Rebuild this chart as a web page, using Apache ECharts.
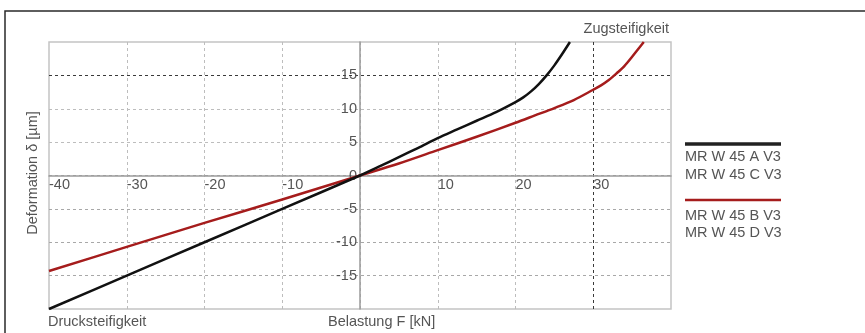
<!DOCTYPE html>
<html>
<head>
<meta charset="utf-8">
<script src="https://cdn.jsdelivr.net/npm/echarts@6/dist/echarts.min.js"></script>
<style>
html,body{margin:0;padding:0;background:#fff;}
#chart{width:865px;height:333px;}
</style>
</head>
<body>
<div id="chart"></div>
<script>
// ---- data ----
const nameAC = 'MR W 45 A V3 / MR W 45 C V3';
const nameBD = 'MR W 45 B V3 / MR W 45 D V3';
const legendAC = ['MR W 45 A V3', 'MR W 45 C V3'];
const legendBD = ['MR W 45 B V3', 'MR W 45 D V3'];
const loadAC   = [-40, -30, -20, -10, 0, 2.5, 5, 7.5, 10, 12.5, 15, 17.5, 20, 21, 22, 23, 24, 25, 26, 27];
const deformAC = [-20, -15, -10, -5, 0, 1.35, 2.75, 4.15, 5.6, 6.9, 8.2, 9.5, 11, 11.7, 12.6, 13.7, 15, 16.5, 18.2, 20];
const loadBD   = [-40, -30, -20, -10, 0, 5, 10, 15, 20, 22.5, 25, 27.5, 30, 31, 32, 33, 34, 35, 36.5];
const deformBD = [-14.3, -10.7, -7.1, -3.6, 0, 1.8, 3.8, 5.8, 7.9, 9, 10.1, 11.3, 12.85, 13.5, 14.3, 15.3, 16.4, 17.8, 20];
const xTitle = 'Belastung F [kN]';
const yTitle = 'Deformation δ [µm]';
const topNote = 'Zugsteifigkeit';
const bottomNote = 'Drucksteifigkeit';

const FONT = "'Liberation Sans', Arial, sans-serif";
const FS = 14.5;
const TXT = '#555';

const GL = 49, GT = 42, GW = 622, GH = 267;

const chart = echarts.init(document.getElementById('chart'), null, {renderer: 'canvas'});
const pairs = (xs, ys) => xs.map((x, i) => [x, ys[i]]);

chart.setOption({
  animation: false,
  backgroundColor: '#fff',
  textStyle: {fontFamily: FONT},
  grid: {left: GL, top: GT, width: GW, height: GH, show: true, borderColor: '#c4c4c4', borderWidth: 1.5, backgroundColor: 'transparent'},
  xAxis: {
    type: 'value', min: -40, max: 40, interval: 10, position: 'bottom', offset: -GH / 2,
    axisLine: {onZero: false, lineStyle: {color: '#9a9a9a', width: 1.5}},
    axisTick: {show: false},
    axisLabel: {
      align: 'left', margin: 2, color: TXT, fontSize: FS, fontFamily: FONT,
      formatter: v => (v === 0 || v === 40) ? '' : String(v)
    },
    splitLine: {show: true, showMinLine: false, showMaxLine: false,
      lineStyle: {type: [3, 3], width: 1, color: ['#bdbdbd', '#bdbdbd', '#bdbdbd', '#bdbdbd', '#bdbdbd', '#bdbdbd', '#3a3a3a']}}
  },
  yAxis: {
    type: 'value', min: -20, max: 20, interval: 5, position: 'left', offset: -GW / 2,
    axisLine: {onZero: false, lineStyle: {color: '#9a9a9a', width: 1.5}},
    axisTick: {show: false},
    axisLabel: {
      margin: 3, color: TXT, fontSize: FS, fontFamily: FONT,
      formatter: v => (v === 20 || v === -20) ? '' : String(v)
    },
    splitLine: {show: true, showMinLine: false, showMaxLine: false,
      lineStyle: {type: [3, 3], width: 1, color: ['#a8a8a8', '#a8a8a8', '#a8a8a8', '#a8a8a8', '#bdbdbd', '#bdbdbd', '#3a3a3a']}}
  },
  series: [
    {name: nameAC, type: 'line', data: pairs(loadAC, deformAC), smooth: 0.3,
     showSymbol: false, lineStyle: {color: '#111', width: 2.5, join: 'round'}, z: 5},
    {name: nameBD, type: 'line', data: pairs(loadBD, deformBD), smooth: 0.3,
     showSymbol: false, lineStyle: {color: '#a51c1c', width: 2.5, join: 'round'}, z: 4}
  ],
  graphic: [
    {type: 'rect', shape: {x: 5, y: 11, width: 900, height: 400}, style: {fill: null, stroke: '#2a2a2a', lineWidth: 1.5}, z: -1, silent: true},
    {type: 'text', x: 669, y: 29, style: {text: topNote, font: FS + 'px ' + FONT, fill: TXT, align: 'right', verticalAlign: 'middle'}},
    {type: 'text', x: 48, y: 322, style: {text: bottomNote, font: FS + 'px ' + FONT, fill: TXT, align: 'left', verticalAlign: 'middle'}},
    {type: 'text', x: 328, y: 322, style: {text: xTitle, font: FS + 'px ' + FONT, fill: TXT, align: 'left', verticalAlign: 'middle'}},
    {type: 'text', x: 33, y: 173, rotation: Math.PI / 2, style: {text: yTitle, font: FS + 'px ' + FONT, fill: TXT, align: 'center', verticalAlign: 'middle'}},
    {type: 'line', shape: {x1: 685, y1: 144, x2: 781, y2: 144}, style: {stroke: '#222', lineWidth: 3.5}},
    {type: 'text', x: 685, y: 157, style: {text: legendAC[0], font: FS + 'px ' + FONT, fill: TXT, align: 'left', verticalAlign: 'middle'}},
    {type: 'text', x: 685, y: 175, style: {text: legendAC[1], font: FS + 'px ' + FONT, fill: TXT, align: 'left', verticalAlign: 'middle'}},
    {type: 'line', shape: {x1: 685, y1: 200, x2: 781, y2: 200}, style: {stroke: '#a51c1c', lineWidth: 2.5}},
    {type: 'text', x: 685, y: 215.5, style: {text: legendBD[0], font: FS + 'px ' + FONT, fill: TXT, align: 'left', verticalAlign: 'middle'}},
    {type: 'text', x: 685, y: 233, style: {text: legendBD[1], font: FS + 'px ' + FONT, fill: TXT, align: 'left', verticalAlign: 'middle'}}
  ]
});
</script>
</body>
</html>
